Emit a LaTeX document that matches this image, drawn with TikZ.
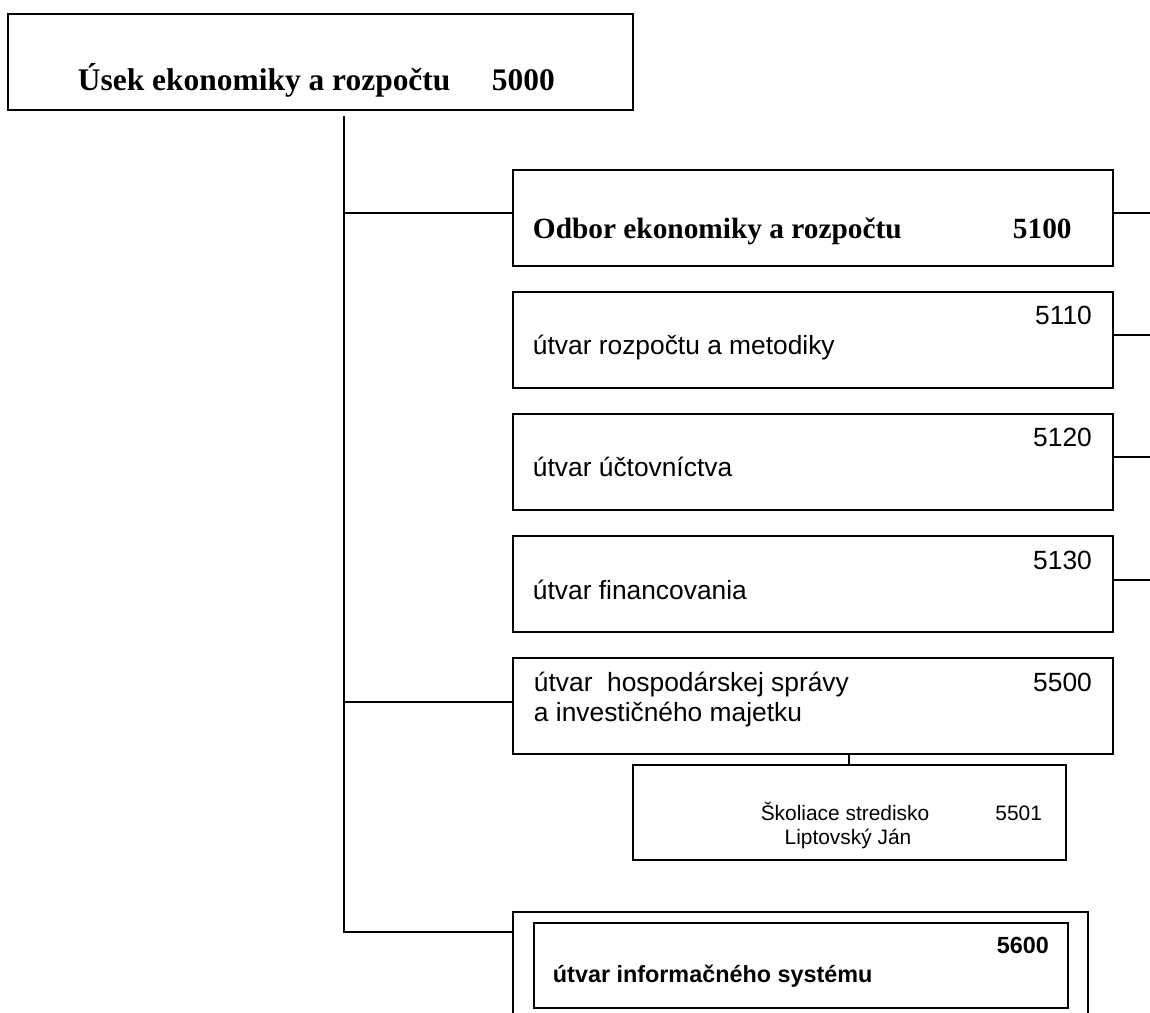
\documentclass[tikz,border=0pt]{standalone}
\usepackage{fontspec}
\setmainfont{Liberation Serif}
\setsansfont{Liberation Sans}
\usepackage{tikz}
\usetikzlibrary{positioning, calc}

\begin{document}
\begin{tikzpicture}[x=0.02cm, y=-0.02cm, node distance=0.48cm, line width=1.1pt,
  box/.style={draw, rectangle, inner sep=0pt, minimum width=12cm, minimum height=1.92cm},
  txt/.style={inner sep=0pt, anchor=base west, font=\sffamily\fontsize{15}{18}\selectfont},
  num/.style={inner sep=0pt, anchor=base east, font=\sffamily\fontsize{15}{18}\selectfont},
  head/.style={inner sep=0pt, anchor=base west, font=\bfseries}]
\useasboundingbox (0,0) rectangle (1150,1012);
\clip (0,0) rectangle (1150,1012);
% boxes
\node (usek) [box, minimum width=12.5cm, anchor=north west] at (7,13) {};
\node (b5100) [box, anchor=north west] at (512,169) {};
\node (b5110) [box, below=of b5100] {};
\node (b5120) [box, below=of b5110] {};
\node (b5130) [box, below=of b5120] {};
\node (b5500) [box, below=of b5130] {};
\node (b5501) [box, minimum width=8.66cm, minimum height=1.9cm, anchor=north west] at (632,764) {};
\node (b5600) [box, minimum width=11.5cm, minimum height=2.6cm, anchor=north west] at (512,911) {};
\node (is) [box, minimum width=10.68cm, minimum height=1.7cm, anchor=north west] at (533,922) {};
% texts
\node [head, font=\bfseries\fontsize{17.9}{21}\selectfont] at ($(usek.north west)+(70,77)$) {Úsek ekonomiky a rozpočtu};
\node [head, font=\bfseries\fontsize{17.9}{21}\selectfont] at ($(usek.north west)+(484,77)$) {5000};
\node [head, font=\bfseries\fontsize{16.7}{20}\selectfont] at ($(b5100.north west)+(20,69)$) {Odbor ekonomiky a rozpočtu};
\node [head, font=\bfseries\fontsize{16.7}{20}\selectfont] at ($(b5100.north west)+(500,69)$) {5100};
\node [num] at ($(b5110.north east)+(-21,34)$) {5110};
\node [txt] at ($(b5110.north west)+(20,64)$) {útvar rozpočtu a metodiky};
\node [num] at ($(b5120.north east)+(-21,34)$) {5120};
\node [txt] at ($(b5120.north west)+(20,64)$) {útvar účtovníctva};
\node [num] at ($(b5130.north east)+(-21,35)$) {5130};
\node [txt] at ($(b5130.north west)+(20,65)$) {útvar financovania};
\node [num] at ($(b5500.north east)+(-21,35)$) {5500};
\node [txt] at ($(b5500.north west)+(21,35)$) {útvar\ \ hospodárskej správy};
\node [txt] at ($(b5500.north west)+(21,65)$) {a investičného majetku};
\node [inner sep=0pt, anchor=base, font=\sffamily\fontsize{11.9}{14}\selectfont] at ($(b5501.north west)+(213,56)$) {Školiace stredisko};
\node [inner sep=0pt, anchor=base east, font=\sffamily\fontsize{11.9}{14}\selectfont] at ($(b5501.north east)+(-24,56)$) {5501};
\node [inner sep=0pt, anchor=base, font=\sffamily\fontsize{11.9}{14}\selectfont] at ($(b5501.north west)+(216,80)$) {Liptovský Ján};
\node [num, font=\sffamily\bfseries\fontsize{13.3}{16}\selectfont] at ($(is.north east)+(-19,31)$) {5600};
\node [txt, font=\sffamily\bfseries\fontsize{13.3}{16}\selectfont] at ($(is.north west)+(19,60)$) {útvar informačného systému};
% lines
\coordinate (trunk) at (344,116);
\draw (trunk) |- ([yshift=0.1cm]b5100.west);
\draw (trunk) |- ([yshift=0.08cm]b5500.west);
\draw (trunk) |- ([yshift=-0.42cm]b5600.north west);
\draw ([yshift=0.1cm]b5100.east) -- ++(40,0);
\draw ([yshift=0.1cm]b5110.east) -- ++(40,0);
\draw ([yshift=0.1cm]b5120.east) -- ++(40,0);
\draw ([yshift=0.07cm]b5130.east) -- ++(40,0);
\draw (b5501.north) -- (b5501.north |- b5500.south);
\end{tikzpicture}
\end{document}
